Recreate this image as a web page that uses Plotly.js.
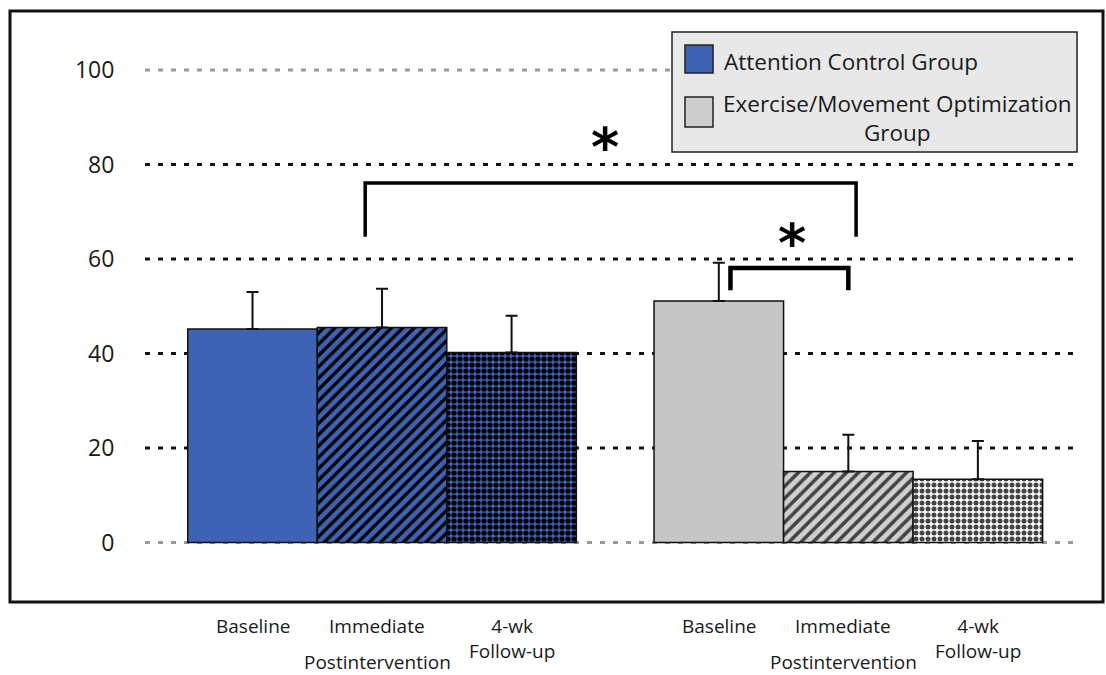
<!DOCTYPE html>
<html><head><meta charset="utf-8">
<script src="https://cdn.plot.ly/plotly-3.0.1.min.js"></script>
<style>html,body{margin:0;padding:0;background:#fff}#chart{width:1106px;height:675px}</style>
</head><body><div id="chart"></div>
<script>
// ---- data ----
const groupNames = ["Attention Control Group", "Exercise/Movement Optimization Group"];
const timepoints = ["Baseline", "Immediate Postintervention", "4-wk Follow-up"];
const controlMeans = [45.2, 45.5, 40.2];
const controlErr = [7.8, 8.2, 7.8];
const exerciseMeans = [51.1, 15.0, 13.4];
const exerciseErr = [8.1, 7.8, 8.1];
const yTickVals = [0, 20, 40, 60, 80, 100];
const yTickText = ["0", "20", "40", "60", "80", "100"];
const labelTop = ["Baseline", "Immediate", "4-wk<br>Follow-up"];
const labelBottom = ["", "Postintervention", ""];

// ---- layout helpers ----
const groupGap = 0.6;
const xControl = timepoints.map((t, i) => i);
const xExercise = timepoints.map((t, i) => i + timepoints.length + groupGap);
const W = 1106, H = 675;
const L = 145, R = 31, T = 20, B = 71;
const pw = W - L - R, ph = H - T - B;
const px = p => (p - L) / pw;          // pixel x -> paper
const py = p => (H - B - p) / ph;      // pixel y -> paper

const FONT = "Open Sans, Noto Sans, sans-serif";
const blue = "#3e62b4";

const traces = [
  {
    type: "bar", name: groupNames[0], x: xControl, y: controlMeans, width: 1,
    showlegend: false, hoverinfo: "y",
    marker: {
      color: blue, line: {color: "#111", width: 1.5},
      pattern: {shape: ["", "/", "."], fillmode: "overlay", fgcolor: "#000", fgopacity: 1,
                size: [8, 8, 6], solidity: [0.5, 0.42, 0.6]}
    },
    error_y: {type: "data", symmetric: false, array: controlErr, arrayminus: [0, 0, 0],
              color: "#111", thickness: 2, width: 6}
  },
  {
    type: "bar", name: groupNames[1], x: xExercise, y: exerciseMeans, width: 1,
    showlegend: false, hoverinfo: "y",
    marker: {
      color: ["#c6c6c6", "#d0d0d0", "#ffffff"], line: {color: "#111", width: 1.5},
      pattern: {shape: ["", "/", "."], fillmode: "overlay", fgcolor: "#000", fgopacity: 1,
                size: [8, 8.5, 6], solidity: [0.5, 0.42, 0.55]}
    },
    error_y: {type: "data", symmetric: false, array: exerciseErr, arrayminus: [0, 0, 0],
              color: "#111", thickness: 2, width: 6}
  }
];

const shapes = [];
// dotted gridlines (below bars)
yTickVals.forEach(v => {
  const edge = (v === 0 || v === 100);
  shapes.push({type: "line", layer: "below", xref: "paper", x0: 0, x1: 1, yref: "y", y0: v, y1: v,
               line: {color: edge ? "#9a9a9a" : "#151515", width: 3, dash: "5px,8px"}});
});
// outer frame
shapes.push({type: "rect", xref: "paper", yref: "paper", x0: px(10), x1: px(1103), y0: py(602), y1: py(11),
             line: {color: "#111", width: 3}, fillcolor: "rgba(0,0,0,0)"});
// legend box + swatches
shapes.push({type: "rect", xref: "paper", yref: "paper", x0: px(672), x1: px(1077), y0: py(152), y1: py(32),
             line: {color: "#222", width: 1.5}, fillcolor: "#e8e8e8"});
shapes.push({type: "rect", xref: "paper", yref: "paper", x0: px(685), x1: px(713), y0: py(73), y1: py(45),
             line: {color: "#222", width: 1.5}, fillcolor: blue});
shapes.push({type: "rect", xref: "paper", yref: "paper", x0: px(685), x1: px(713), y0: py(127), y1: py(97),
             line: {color: "#222", width: 1.5}, fillcolor: "#cdcdcd"});
// significance brackets
const brackets = [
  {x0: 0.87, x1: 4.66, top: 76.1, bottom: 64.7, w: 3.5},
  {x0: 3.69, x1: 4.60, top: 58.1, bottom: 53.4, w: 4.5}
];
brackets.forEach(b => {
  shapes.push({type: "path", xref: "x", yref: "y",
               path: `M${b.x0},${b.bottom} L${b.x0},${b.top} L${b.x1},${b.top} L${b.x1},${b.bottom}`,
               line: {color: "#000", width: b.w}});
});

const annotations = [];
// x category labels
const tickFont = {family: FONT, size: 19, color: "#1a1a1a"};
[xControl, xExercise].forEach(xs => {
  xs.forEach((xv, i) => {
    annotations.push({xref: "x", yref: "paper", x: xv, y: py(611), text: labelTop[i], showarrow: false,
                      xanchor: "center", yanchor: "top", xshift: i === 1 ? -5 : 0, font: tickFont});
    if (labelBottom[i]) {
      annotations.push({xref: "x", yref: "paper", x: xv, y: py(662), text: labelBottom[i], showarrow: false,
                        xanchor: "center", yanchor: "middle", xshift: i === 1 ? -5 : 0, font: tickFont});
    }
  });
});
// stars
annotations.push({xref: "x", yref: "y", x: 2.72, y: 85.6, text: "<b>*</b>", showarrow: false,
                  font: {family: "DejaVu Sans", size: 54, color: "#000"}, yshift: -9});
annotations.push({xref: "x", yref: "y", x: 4.165, y: 65.1, text: "<b>*</b>", showarrow: false,
                  font: {family: "DejaVu Sans", size: 54, color: "#000"}, yshift: -9});
// legend texts
annotations.push({xref: "paper", yref: "paper", x: px(722), y: py(61), xanchor: "left", yanchor: "middle",
                  text: groupNames[0], showarrow: false, font: {family: FONT, size: 22.5, color: "#1a1a1a"}});
annotations.push({xref: "paper", yref: "paper", x: px(897), y: py(118), xanchor: "center", yanchor: "middle",
                  align: "center", text: "Exercise/Movement Optimization<br>Group", showarrow: false,
                  font: {family: FONT, size: 22.5, color: "#1a1a1a"}});

const layout = {
  width: W, height: H,
  margin: {l: L, r: R, t: T, b: B, pad: 0},
  paper_bgcolor: "#fff", plot_bgcolor: "rgba(0,0,0,0)",
  barmode: "overlay", showlegend: false,
  xaxis: {range: [-0.83, 6.35], showticklabels: false, showgrid: false, zeroline: false,
          showline: false, ticks: "", fixedrange: true},
  yaxis: {range: [-13.02, 110.58], tickvals: yTickVals, ticktext: yTickText, showgrid: false,
          zeroline: false, showline: false, ticks: "outside", ticklen: 25, tickcolor: "rgba(0,0,0,0)",
          tickfont: {family: FONT, size: 23, color: "#1a1a1a"}, fixedrange: true},
  shapes: shapes,
  annotations: annotations
};

Plotly.newPlot("chart", traces, layout, {displayModeBar: false, staticPlot: true});
</script>
</body></html>
